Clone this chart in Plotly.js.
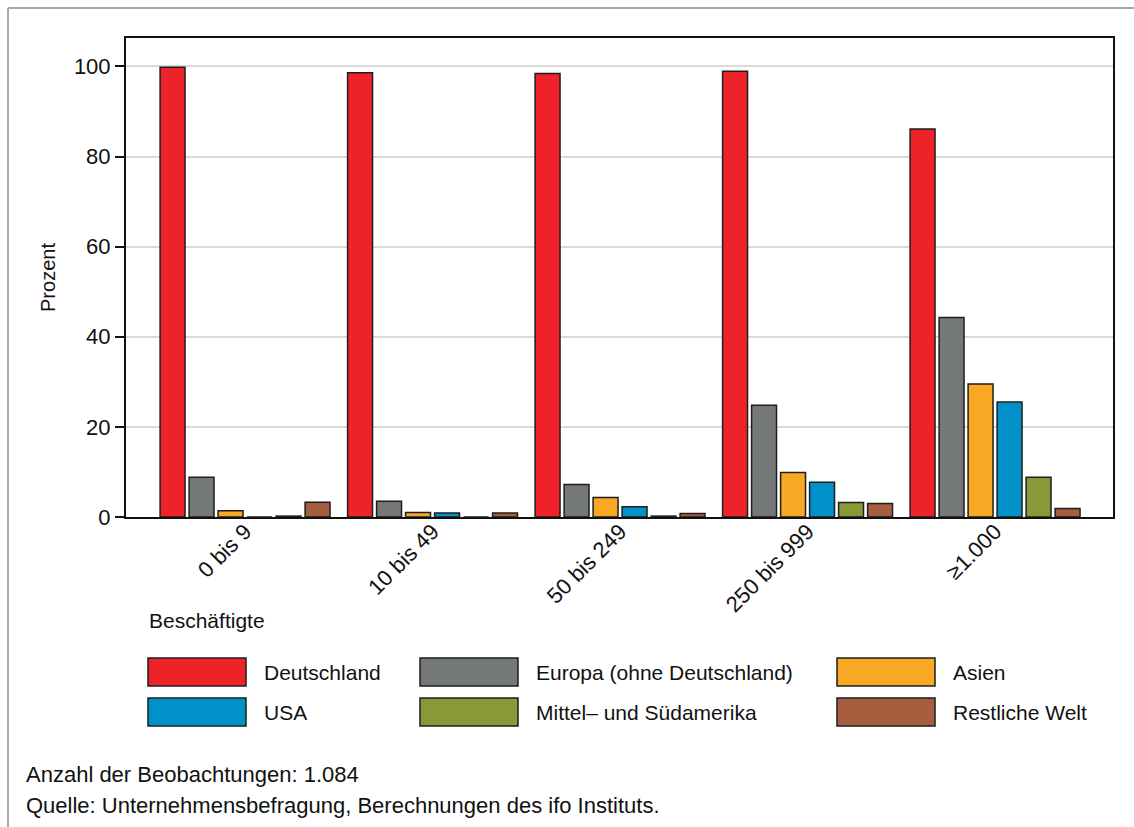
<!DOCTYPE html>
<html>
<head>
<meta charset="utf-8">
<script src="https://cdn.plot.ly/plotly-3.0.1.min.js"></script>
<style>
  html, body { margin: 0; padding: 0; background: #fff; }
  #chart { width: 1134px; height: 827px; }
</style>
</head>
<body>
<div id="chart"></div>
<script>
// ---- data ----
const categories = ['0 bis 9', '10 bis 49', '50 bis 249', '250 bis 999', '≥1.000'];
const seriesNames = ['Deutschland', 'Europa (ohne Deutschland)', 'Asien', 'USA', 'Mittel– und Südamerika', 'Restliche Welt'];
const deutschland = [99.8, 98.6, 98.4, 98.9, 86.1];
const europa      = [8.8, 3.5, 7.2, 24.8, 44.3];
const asien       = [1.4, 1.0, 4.3, 9.9, 29.5];
const usa         = [0, 0.9, 2.3, 7.7, 25.5];
const mittel      = [0.2, 0, 0.2, 3.2, 8.8];
const restliche   = [3.3, 0.9, 0.8, 3.0, 1.9];
const seriesValues = [deutschland, europa, asien, usa, mittel, restliche];
const colors = ['#EE2229', '#757878', '#F9A823', '#0091C8', '#889A38', '#A65E3E'];
const yTicks = [0, 20, 40, 60, 80, 100];
const xTitle = 'Beschäftigte';
const yTitle = 'Prozent';
const footnotes = ['Anzahl der Beobachtungen: 1.084', 'Quelle: Unternehmensbefragung, Berechnungen des ifo Instituts.'];

// ---- layout geometry (pixels) ----
const FONT = '"Liberation Sans", Arial, sans-serif';
const L = 126, R = 1113, T = 38, B = 517;
const W = R - L, H = B - T;
const px = x => (x - L) / W;
const py = y => (B - y) / H;

const traces = seriesNames.map((name, i) => ({
  type: 'bar',
  name: name,
  x: categories,
  y: seriesValues[i],
  marker: { color: colors[i], line: { color: '#1e1e1e', width: 1.5 } },
  showlegend: false,
  hoverinfo: 'x+y+name'
}));

const shapes = [];
const annotations = [];

// outer frame (top and left grey border)
shapes.push({ type: 'line', xref: 'paper', yref: 'paper', x0: px(8), x1: px(1134), y0: py(8), y1: py(8), line: { color: '#a8a8a8', width: 2 } });
shapes.push({ type: 'line', xref: 'paper', yref: 'paper', x0: px(8), x1: px(8), y0: py(8), y1: py(827), line: { color: '#a8a8a8', width: 2 } });

// custom legend (large swatches)
const colX = [148, 420, 837];
const rowY = [658, 698];
const boxW = 98, boxH = 28;
seriesNames.forEach((name, i) => {
  const r = Math.floor(i / 3), c = i % 3;
  const x0 = colX[c], y0 = rowY[r];
  shapes.push({
    type: 'rect', xref: 'paper', yref: 'paper',
    x0: px(x0), x1: px(x0 + boxW), y0: py(y0), y1: py(y0 + boxH),
    fillcolor: colors[i], line: { color: '#1e1e1e', width: 1.5 }
  });
  annotations.push({
    xref: 'paper', yref: 'paper', x: px(x0 + boxW + 16), y: py(y0 + boxH / 2),
    xanchor: 'left', yanchor: 'middle', showarrow: false,
    text: name, font: { family: FONT, size: 21, color: '#111' }
  });
});

// x-axis title
annotations.push({
  xref: 'paper', yref: 'paper', x: px(147), y: py(620),
  xanchor: 'left', yanchor: 'middle', showarrow: false,
  text: xTitle, font: { family: FONT, size: 21, color: '#111' }
});

// footnotes
footnotes.forEach((t, i) => {
  annotations.push({
    xref: 'paper', yref: 'paper', x: px(24), y: py(774 + i * 31),
    xanchor: 'left', yanchor: 'middle', showarrow: false,
    text: t, font: { family: FONT, size: 22, color: '#111' }
  });
});

const layout = {
  width: 1134, height: 827,
  margin: { l: L, r: 1134 - R, t: T, b: 827 - B, pad: 0 },
  paper_bgcolor: '#fff', plot_bgcolor: '#fff',
  font: { family: FONT, size: 21, color: '#111' },
  showlegend: false,
  barmode: 'group',
  bargap: 0.072,
  bargroupgap: 0.14,
  xaxis: {
    type: 'category',
    range: [-0.635, 4.629],
    showgrid: false,
    showline: true, linecolor: '#111', linewidth: 2, mirror: true,
    ticks: '', tickangle: -45,
    ticklabelstandoff: -9,
    tickfont: { family: FONT, size: 22, color: '#111' },
    zeroline: false
  },
  yaxis: {
    range: [0, 106.3],
    tickvals: yTicks,
    ticktext: yTicks.map(String),
    showgrid: true, gridcolor: '#d9d9d9', gridwidth: 2,
    showline: true, linecolor: '#111', linewidth: 2, mirror: true,
    ticks: 'outside', ticklen: 9, tickwidth: 2, tickcolor: '#111',
    tickfont: { family: FONT, size: 22, color: '#111' },
    zeroline: false,
    title: { text: yTitle, font: { family: FONT, size: 20, color: '#111' }, standoff: 13 }
  },
  shapes: shapes,
  annotations: annotations
};

Plotly.newPlot('chart', traces, layout, { displayModeBar: false, staticPlot: true });
</script>
</body>
</html>
